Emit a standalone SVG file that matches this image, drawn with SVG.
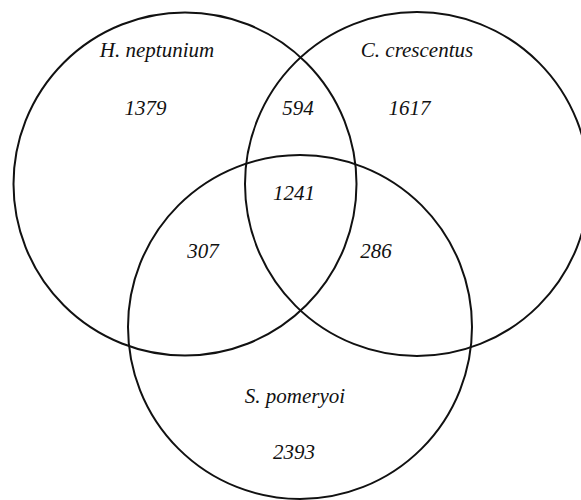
<svg xmlns="http://www.w3.org/2000/svg" width="581" height="500" viewBox="0 0 581 500">
<style>
.c{fill:none;stroke:#111;stroke-width:2}
.t{font-family:"Liberation Serif","Times New Roman",serif;font-style:italic;font-size:21px;fill:#111;text-anchor:middle}
</style>
<rect width="581" height="500" fill="#fff"/>
<g id="h-neptunium">
<circle class="c" cx="185" cy="184" r="171.5"/>
<text class="t" x="157" y="57">H. neptunium</text>
<text class="t" x="145.5" y="115">1379</text>
</g>
<g id="c-crescentus">
<circle class="c" cx="417" cy="184" r="172"/>
<text class="t" x="417" y="57">C. crescentus</text>
<text class="t" x="409.5" y="115">1617</text>
</g>
<g id="s-pomeryoi">
<circle class="c" cx="300" cy="327" r="172"/>
<text class="t" x="295" y="403">S. pomeryoi</text>
<text class="t" x="294" y="459">2393</text>
</g>
<g id="overlaps">
<text class="t" x="298" y="115">594</text>
<text class="t" x="294" y="200">1241</text>
<text class="t" x="203" y="258">307</text>
<text class="t" x="376" y="258">286</text>
</g>
</svg>
